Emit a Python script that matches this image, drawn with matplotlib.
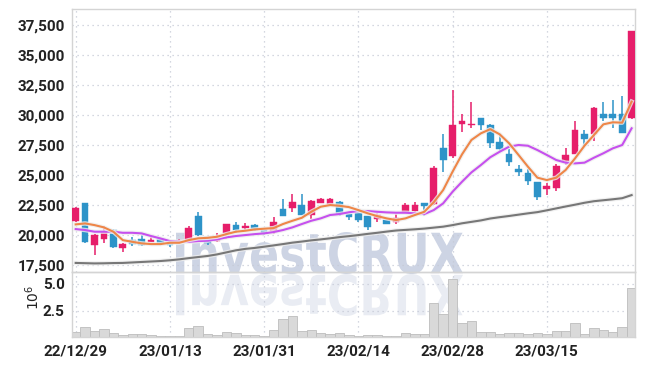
import numpy as np
import matplotlib
matplotlib.use("Agg")
from matplotlib import pyplot as plt
from matplotlib.textpath import TextPath
from matplotlib.patches import PathPatch
from matplotlib.font_manager import FontProperties
from matplotlib.transforms import Affine2D, IdentityTransform
import matplotlib.patheffects as pe

# daily candles, 22/12/29 .. 23/03/29
opens = [21180, 22650, 19160, 19660, 20430, 18940, 19580, 19660, 19440, 19660,
         19360, 19330, 19580, 21600, 19800, 19520, 20160, 20820, 20570, 20820,
         20430, 20300, 22150, 22230, 22510, 21680, 22710, 22620, 22790, 21740,
         21820, 21550, 21320, 21240, 21130, 21820, 22010, 22650, 22570, 27220,
         26590, 29270, 29150, 29710, 29150, 27770, 26780, 25470, 25140, 24420,
         23840, 23950, 26170, 26760, 28380, 28440, 30120, 30120, 30040, 29710]
highs = [22300, 22710, 20050, 20760, 20490, 19330, 19880, 20000, 19880, 19700,
         19400, 19640, 20760, 21880, 19880, 20210, 20910, 21100, 20990, 20960,
         20450, 21480, 23040, 23450, 23400, 22930, 23120, 23100, 22850, 21780,
         21900, 21600, 21800, 21280, 21740, 22710, 22790, 22700, 25750, 28440,
         32040, 30040, 31100, 29710, 29250, 28380, 27130, 25830, 25470, 24450,
         24370, 25890, 27280, 29490, 28710, 30650, 31100, 31230, 31540, 37020]
lows = [21070, 19330, 18330, 19380, 18940, 18600, 19050, 19050, 19400, 19330,
        18980, 19300, 19380, 19950, 19160, 19440, 19660, 20210, 20350, 20350,
        20000, 20070, 21600, 21960, 21680, 21320, 22650, 22430, 21550, 21260,
        21130, 20410, 21130, 20900, 20960, 21800, 21950, 21600, 22500, 25280,
        26440, 28600, 28940, 28770, 27280, 26990, 25750, 24920, 24170, 22930,
        23340, 23670, 25830, 26720, 27410, 27830, 29490, 28880, 28460, 29630]
closes = [22230, 19440, 20000, 20270, 19020, 19240, 19270, 19160, 19580, 19380,
          19170, 19500, 20550, 20020, 19300, 19850, 20910, 20410, 20760, 20430,
          20200, 21100, 21600, 22760, 21680, 22820, 22980, 23040, 21740, 21510,
          21260, 20680, 21680, 20960, 21460, 22480, 22480, 22430, 25560, 26220,
          29130, 29490, 29290, 29150, 27630, 27190, 26110, 25280, 24500, 23170,
          24060, 25720, 26640, 28710, 28020, 30540, 29710, 29710, 28460, 37020]
volumes = [0.52, 0.98, 0.64, 0.80, 0.43, 0.25, 0.34, 0.34, 0.25, 0.16,
           0.15, 0.18, 0.89, 1.07, 0.34, 0.25, 0.52, 0.43, 0.25, 0.25,
           0.15, 0.70, 1.71, 1.99, 0.64, 0.70, 0.43, 0.34, 0.43, 0.25,
           0.15, 0.25, 0.25, 0.15, 0.15, 0.43, 0.34, 0.34, 3.18, 2.17,
           5.47, 1.34, 1.53, 0.52, 0.52, 0.34, 0.43, 0.43, 0.34, 0.43,
           0.34, 0.61, 0.61, 1.34, 0.34, 0.89, 0.70, 0.52, 0.98, 4.55]  # millions

ma_short = [20890, 20970, 20830, 20640, 20280, 19580, 19440, 19310, 19250, 19250,
            19360, 19360, 19580, 19730, 19770, 19860, 20080, 20280, 20360, 20470,
            20530, 20580, 20920, 21190, 21440, 21940, 22360, 22500, 22440, 22330,
            22080, 21810, 21580, 21390, 21250, 21390, 21670, 21940, 22730, 23750,
            25280, 26720, 27920, 28470, 28820, 28390, 27640, 26670, 25690, 24780,
            24580, 24780, 25420, 26390, 27440, 28330, 29220, 29390, 29360, 31110]
ma_mid = [20500, 20420, 20280, 20280, 20280, 20190, 20190, 20140, 19920, 19720,
          19500, 19440, 19440, 19500, 19530, 19640, 19810, 19920, 20000, 20080,
          20140, 20250, 20420, 20640, 20920, 21190, 21390, 21670, 21750, 21900,
          22000, 22000, 21940, 21890, 21860, 21860, 21810, 21750, 22080, 22640,
          23610, 24440, 25220, 25830, 26480, 26940, 27360, 27500, 27440, 27080,
          26670, 26250, 26030, 25970, 26030, 26440, 26810, 27220, 27500, 28890]
ma_long = [17680, 17660, 17640, 17650, 17670, 17680, 17720, 17760, 17800, 17840,
           17900, 17980, 18080, 18170, 18260, 18390, 18560, 18730, 18850, 18930,
           19030, 19140, 19250, 19370, 19460, 19560, 19640, 19730, 19830, 19910,
           20000, 20100, 20190, 20290, 20380, 20430, 20480, 20540, 20620, 20700,
           20830, 20980, 21100, 21220, 21380, 21490, 21590, 21700, 21810, 21910,
           22060, 22220, 22380, 22530, 22690, 22820, 22900, 22980, 23070, 23330]

tick_pos = [0, 10, 20, 30, 40, 50]
tick_labels = ["22/12/29", "23/01/13", "23/01/31", "23/02/14", "23/02/28", "23/03/15"]
price_ticks = [17500, 20000, 22500, 25000, 27500, 30000, 32500, 35000, 37500]

UP = "#E61E6A"
DOWN = "#2D93C8"
GRID = "#c6cad6"
SPINE = "#d4d4d4"
LABEL_FONT = ["Roboto", "DejaVu Sans"]

fig = plt.figure(figsize=(6.45, 3.66), dpi=100)
ax = fig.add_axes([0.1112, 0.256, 0.8733, 0.7186])
axv = fig.add_axes([0.1112, 0.078, 0.8733, 0.178], sharex=ax)
for a in (ax, axv):
    a.set_facecolor("none")
    for s in a.spines.values():
        s.set_color(SPINE)
        s.set_linewidth(1.0)
    a.grid(True, linestyle=(0, (1, 3)), color=GRID, linewidth=0.9)
    a.set_axisbelow(True)
    a.tick_params(length=0, pad=5, labelcolor="#222222")

# watermark + reflection (figure pixels)
fp = FontProperties(family="DejaVu Sans", weight="bold")
tp = TextPath((0, 0), "InvestCRUX", size=100, prop=fp)
bb = tp.get_extents()
x0, x1, ytop, ybase = 176, 463, 232, 274   # image pixel box
sx = (x1 - x0) / bb.width
sy = (ybase - ytop) / bb.height
H = 366
tr_main = Affine2D().translate(-bb.x0, -bb.y0).scale(sx, sy).translate(x0, H - ybase)
tr_flip = Affine2D().translate(-bb.x0, -bb.y0).scale(sx, -sy).translate(x0, H - ybase)
fig.patches.append(PathPatch(tr_main.transform_path(tp), facecolor="#cdd4e4",
                             edgecolor="none", transform=IdentityTransform(), zorder=-2))
fig.patches.append(PathPatch(tr_flip.transform_path(tp), facecolor="#e9ecf3",
                             edgecolor="none", transform=IdentityTransform(), zorder=-2))

x = np.arange(len(closes))
o = np.array(opens); c = np.array(closes)
colors = [UP if cc >= oo else DOWN for oo, cc in zip(opens, closes)]
ax.vlines(x, lows, highs, colors=colors, linewidth=1.1, zorder=2)
body_h = np.maximum(np.abs(c - o), 60)
ax.bar(x, body_h, bottom=np.minimum(o, c), width=0.71, color=colors,
       edgecolor=colors, linewidth=0.3, zorder=3)

halo = [pe.Stroke(linewidth=3.2, foreground="#eeeeee", alpha=0.8), pe.Normal()]
ax.plot(x, ma_long, color="#777777", linewidth=1.5, zorder=4, path_effects=halo)
ax.plot(x, ma_mid, color="#C650EE", linewidth=1.5, zorder=4, path_effects=halo)
ax.plot(x, ma_short, color="#EE8648", linewidth=1.5, zorder=5, path_effects=halo)

ax.set_xlim(-0.42, 59.36)
ax.set_ylim(16900, 38800)
ax.set_yticks(price_ticks)
ax.set_yticklabels([f"{v:,}" for v in price_ticks], family=LABEL_FONT,
                   fontsize=11, fontweight="bold")
ax.set_xticks(tick_pos)
ax.tick_params(axis="x", labelbottom=False)

axv.bar(x, np.array(volumes) * 1e6, width=1.0, color="#d9d9d9",
        edgecolor="#bdbdbd", linewidth=0.6, zorder=2)
axv.set_ylim(0, 6.05e6)
axv.set_yticks([2.5e6, 5.0e6])
axv.set_yticklabels(["2.5", "5.0"], family=LABEL_FONT, fontsize=11, fontweight="bold")
axv.set_xticks(tick_pos)
axv.set_xticklabels(tick_labels, family=LABEL_FONT, fontsize=11, fontweight="bold")
axv.text(-0.069, 0.62, "$10^{6}$", transform=axv.transAxes, rotation=90,
         ha="center", va="center", fontsize=10, color="#222222")

fig.savefig("out.png", dpi=100)
